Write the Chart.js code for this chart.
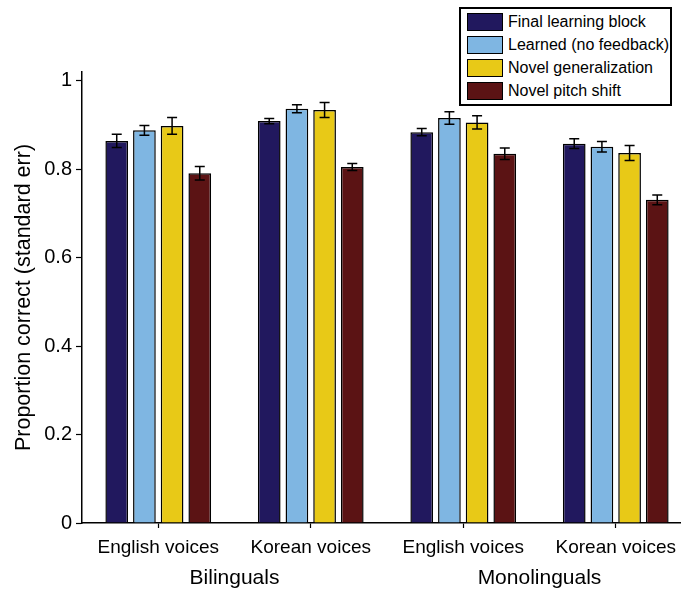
<!DOCTYPE html>
<html>
<head>
<meta charset="utf-8">
<script src="https://cdn.jsdelivr.net/npm/chart.js@4"></script>
<style>
  html, body { margin: 0; padding: 0; background: #fff; overflow: hidden; width: 681px; height: 589px; }
  #wrap { position: relative; width: 700px; height: 589px; }
  #legend { position: absolute; left: 459px; top: 7px; width: 209px; height: 95px; border: 2px solid #000; background: #fff;
            font-family: "Liberation Sans", Arial, sans-serif; font-size: 16px; color: #000; }
  .row { position: absolute; left: 6px; height: 18px; display: flex; align-items: center; }
  .sw { width: 34px; height: 16px; border: 1px solid #000; margin-right: 5px; }
</style>
</head>
<body>
<div id="wrap">
  <canvas id="c" width="700" height="589"></canvas>
  <div id="legend"></div>
</div>
<script>
const categories = ["English voices", "Korean voices", "English voices", "Korean voices"];
const groups = ["Bilinguals", "Monolinguals"];
const seriesNames = ["Final learning block", "Learned (no feedback)", "Novel generalization", "Novel pitch shift"];
const seriesColors = ["#21185e", "#7fb6e2", "#e8c917", "#5b1314"];
const finalBlock   = [0.864, 0.909, 0.884, 0.858];
const learned      = [0.888, 0.937, 0.916, 0.851];
const novelGen     = [0.898, 0.934, 0.906, 0.837];
const pitchShift   = [0.791, 0.805, 0.835, 0.731];
const finalBlockErr = [0.015, 0.006, 0.008, 0.011];
const learnedErr    = [0.011, 0.009, 0.014, 0.012];
const novelGenErr   = [0.019, 0.017, 0.015, 0.017];
const pitchShiftErr = [0.015, 0.008, 0.013, 0.011];
const yTicks = [0, 0.2, 0.4, 0.6, 0.8, 1];

const values = [finalBlock, learned, novelGen, pitchShift];
const errors = [finalBlockErr, learnedErr, novelGenErr, pitchShiftErr];
const FONT = '"Liberation Sans", Arial, sans-serif';

// legend (HTML)
const leg = document.getElementById('legend');
seriesNames.forEach((n, i) => {
  const r = document.createElement('div');
  r.className = 'row';
  r.style.top = (4 + i * 23) + 'px';
  const s = document.createElement('div');
  s.className = 'sw';
  s.style.background = seriesColors[i];
  const t = document.createElement('span');
  t.textContent = n;
  r.appendChild(s); r.appendChild(t);
  leg.appendChild(r);
});

const errorBars = {
  id: 'errorBars',
  afterDatasetsDraw(chart) {
    const ctx = chart.ctx;
    const y = chart.scales.y;
    ctx.save();
    ctx.strokeStyle = '#000';
    ctx.lineWidth = 1.5;
    chart.data.datasets.forEach((ds, di) => {
      const meta = chart.getDatasetMeta(di);
      meta.data.forEach((bar, i) => {
        const v = ds.data[i], e = errors[di][i];
        const x = bar.x;
        const yt = y.getPixelForValue(v + e), yb = y.getPixelForValue(v - e);
        ctx.beginPath();
        ctx.moveTo(x, yt); ctx.lineTo(x, yb);
        ctx.moveTo(x - 5, yt); ctx.lineTo(x + 5, yt);
        ctx.moveTo(x - 5, yb); ctx.lineTo(x + 5, yb);
        ctx.stroke();
      });
    });
    ctx.restore();
  }
};

const groupLabels = {
  id: 'groupLabels',
  afterDraw(chart) {
    const ctx = chart.ctx;
    const x = chart.scales.x;
    ctx.save();
    ctx.fillStyle = '#000';
    ctx.font = '21px ' + FONT;
    ctx.textAlign = 'center';
    ctx.textBaseline = 'middle';
    groups.forEach((g, gi) => {
      const cx = (x.getPixelForValue(gi * 2) + x.getPixelForValue(gi * 2 + 1)) / 2;
      ctx.fillText(g, cx, 578);
    });
    ctx.restore();
  }
};

new Chart(document.getElementById('c'), {
  type: 'bar',
  data: {
    labels: categories,
    datasets: seriesNames.map((n, i) => ({
      label: n,
      data: values[i],
      backgroundColor: seriesColors[i],
      borderColor: '#000',
      borderWidth: 1.5,
      categoryPercentage: 0.726,
      barPercentage: 0.82
    }))
  },
  options: {
    responsive: false,
    animation: false,
    devicePixelRatio: 1,
    layout: { padding: { top: 72, right: 8, left: 0, bottom: 0 } },
    plugins: { legend: { display: false }, tooltip: { enabled: false } },
    scales: {
      x: {
        offset: true,
        grid: { offset: false, drawOnChartArea: false, drawTicks: true, tickLength: 5, tickColor: '#000', tickWidth: 1.2 },
        border: { display: true, color: '#000', width: 1.5 },
        ticks: { color: '#000', font: { family: FONT, size: 19 }, padding: 8, maxRotation: 0, autoSkip: false },
        afterFit(s) { s.height = 66; }
      },
      y: {
        min: 0, max: 1.02,
        afterBuildTicks(s) { s.ticks = yTicks.map(v => ({ value: v })); },
        grid: { drawOnChartArea: false, drawTicks: true, tickLength: 6, tickColor: '#000', tickWidth: 1.2 },
        border: { display: true, color: '#000', width: 1.5 },
        ticks: { color: '#000', font: { family: FONT, size: 20 }, padding: 4, callback: v => String(v) },
        title: { display: true, text: 'Proportion correct (standard err)', color: '#000', font: { family: FONT, size: 21.5 }, padding: { top: 11, bottom: 0 } },
        afterFit(s) { s.width = 82; }
      }
    }
  },
  plugins: [errorBars, groupLabels]
});
</script>
</body>
</html>
